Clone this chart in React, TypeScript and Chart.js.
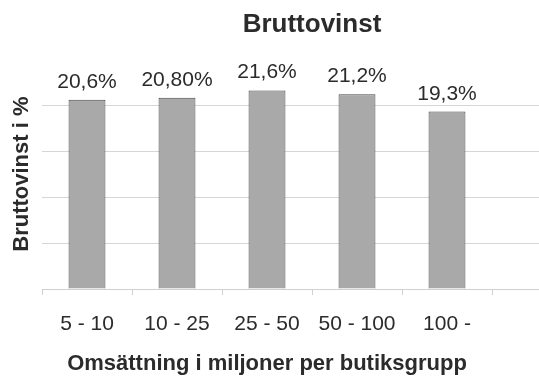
import React, { useEffect, useRef } from "react";
import { Chart, registerables } from "chart.js";

Chart.register(...registerables);

const categories = ["5 - 10", "10 - 25", "25 - 50", "50 - 100", "100 -", ""];
const values: (number | null)[] = [20.6, 20.8, 21.6, 21.2, 19.3, null];
const valueLabels = ["20,6%", "20,80%", "21,6%", "21,2%", "19,3%", ""];
const yMin = 0;
const yMax = 25;
const yStep = 5;
const chartTitle = "Bruttovinst";
const yTitle = "Bruttovinst i %";
const xTitle = "Omsättning i miljoner per butiksgrupp";

const FONT = "'Liberation Sans', Arial, Helvetica, sans-serif";
const TEXT = "#2b2b2b";

export default function App() {
  const ref = useRef<HTMLCanvasElement | null>(null);

  useEffect(() => {
    if (!ref.current) return;

    const labelPlugin = {
      id: "valueLabels",
      afterDatasetsDraw(chart: any) {
        const ctx = chart.ctx;
        const meta = chart.getDatasetMeta(0);
        ctx.save();
        ctx.font = `21px ${FONT}`;
        ctx.fillStyle = TEXT;
        ctx.textAlign = "center";
        ctx.textBaseline = "alphabetic";
        meta.data.forEach((bar: any, i: number) => {
          if (values[i] == null) return;
          ctx.fillText(valueLabels[i], bar.x, bar.y - 12);
        });
        ctx.restore();
      },
    };

    const xTitlePlugin = {
      id: "xTitle",
      afterDraw(chart: any) {
        const xs = chart.scales.x;
        const ctx = chart.ctx;
        const first = xs.getPixelForTick(0);
        const last = xs.getPixelForTick(4);
        ctx.save();
        ctx.font = `bold 22px ${FONT}`;
        ctx.fillStyle = TEXT;
        ctx.textAlign = "center";
        ctx.textBaseline = "middle";
        ctx.fillText(xTitle, (first + last) / 2, xs.top + 75);
        ctx.restore();
      },
    };

    const chart = new Chart(ref.current, {
      type: "bar",
      data: {
        labels: categories,
        datasets: [
          {
            data: values,
            backgroundColor: "#a9a9a9",
            borderColor: "#4a4a4a",
            borderWidth: 1,
            barPercentage: 0.41,
            categoryPercentage: 1.0,
          },
        ],
      },
      options: {
        responsive: false,
        animation: false,
        layout: { padding: { left: 0, right: 18, top: 0, bottom: 0 } },
        plugins: {
          legend: { display: false },
          tooltip: { enabled: false },
          title: {
            display: true,
            text: chartTitle,
            fullSize: false,
            color: TEXT,
            font: { family: FONT, size: 26, weight: "bold" },
            padding: { top: 9, bottom: 19 },
          },
        },
        scales: {
          x: {
            afterFit: (s: any) => {
              s.height = 93;
            },
            grid: {
              display: true,
              drawOnChartArea: false,
              drawTicks: true,
              tickLength: 6,
              color: "#d0d0d0",
              offset: true,
            },
            border: { display: true, color: "#cfcfcf" },
            ticks: {
              color: TEXT,
              font: { family: FONT, size: 21 },
              padding: 17,
              maxRotation: 0,
              autoSkip: false,
            },
          },
          y: {
            min: yMin,
            max: yMax,
            afterFit: (s: any) => {
              s.width = 42;
            },
            ticks: { display: false, stepSize: yStep },
            grid: {
              drawTicks: false,
              color: (c: any) => (c.tick && c.tick.value === yMax ? "rgba(0,0,0,0)" : "#d6d6d6"),
            },
            border: { display: false },
            title: {
              display: true,
              text: yTitle,
              color: TEXT,
              font: { family: FONT, size: 22, weight: "bold" },
              padding: { top: 9, bottom: 0 },
            },
          },
        },
      },
      plugins: [labelPlugin, xTitlePlugin],
    });

    return () => chart.destroy();
  }, []);

  return (
    <div
      style={{
        position: "fixed",
        left: 0,
        top: 0,
        width: 539,
        height: 382,
        overflow: "hidden",
        background: "#fff",
      }}
    >
      <canvas ref={ref} width={600} height={382} style={{ display: "block" }} />
    </div>
  );
}
